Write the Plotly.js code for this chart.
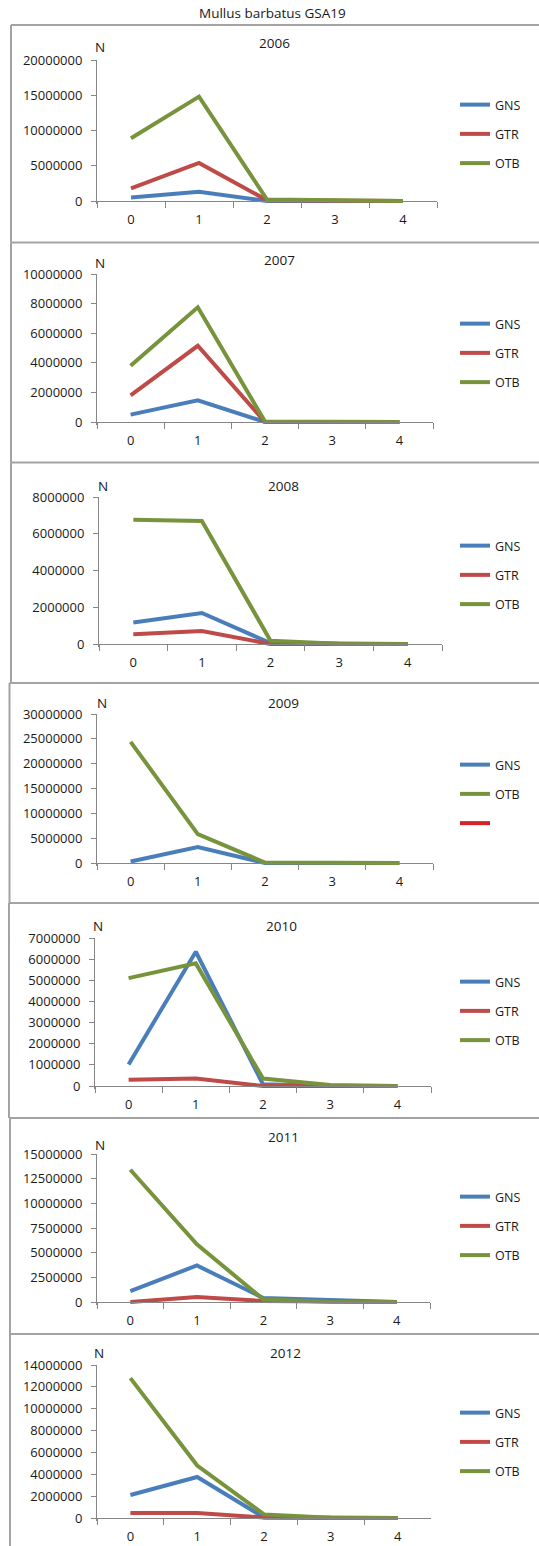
<!DOCTYPE html>
<html>
<head>
<meta charset="utf-8">
<script src="https://cdn.plot.ly/plotly-3.0.1.min.js"></script>
<style>html,body{margin:0;padding:0;background:#fff;}#chart{width:539px;height:1546px;}</style>
</head>
<body>
<div id="chart"></div>
<script>
// ---------- data ----------
const chartTitle = 'Mullus barbatus GSA19';
const ages = ['0', '1', '2', '3', '4'];
const years = ['2006', '2007', '2008', '2009', '2010', '2011', '2012'];
const yMax = [20000000, 10000000, 8000000, 30000000, 7000000, 15000000, 14000000];
const yStep = [5000000, 2000000, 2000000, 5000000, 1000000, 2500000, 2000000];

const gns2006 = [500000, 1300000, 0, 0, 0];
const gtr2006 = [1800000, 5400000, 100000, 0, 0];
const otb2006 = [8900000, 14800000, 200000, 50000, 0];

const gns2007 = [500000, 1470000, 0, 0, 0];
const gtr2007 = [1800000, 5150000, 0, 0, 0];
const otb2007 = [3800000, 7750000, 30000, 0, 0];

const gns2008 = [1170000, 1690000, 50000, 0, 0];
const gtr2008 = [530000, 710000, 0, 0, 0];
const otb2008 = [6760000, 6700000, 180000, 20000, 0];

const gns2009 = [300000, 3200000, 0, 0, 0];
const otb2009 = [24400000, 5800000, 100000, 0, 0];
const unnamed2009 = [null, null, null, null, null];

const gns2010 = [1020000, 6350000, 80000, 0, 0];
const gtr2010 = [290000, 360000, 0, 0, 0];
const otb2010 = [5100000, 5800000, 350000, 50000, 0];

const gns2011 = [1100000, 3700000, 400000, 150000, 0];
const gtr2011 = [0, 500000, 100000, 0, 0];
const otb2011 = [13400000, 5850000, 250000, 30000, 0];

const gns2012 = [2100000, 3750000, 50000, 0, 0];
const gtr2012 = [460000, 460000, 50000, 0, 0];
const otb2012 = [12800000, 4800000, 330000, 20000, 0];

const seriesByYear = [
  [['GNS', gns2006], ['GTR', gtr2006], ['OTB', otb2006]],
  [['GNS', gns2007], ['GTR', gtr2007], ['OTB', otb2007]],
  [['GNS', gns2008], ['GTR', gtr2008], ['OTB', otb2008]],
  [['GNS', gns2009], ['OTB', otb2009], ['', unnamed2009]],
  [['GNS', gns2010], ['GTR', gtr2010], ['OTB', otb2010]],
  [['GNS', gns2011], ['GTR', gtr2011], ['OTB', otb2011]],
  [['GNS', gns2012], ['GTR', gtr2012], ['OTB', otb2012]]
];

// ---------- styling / layout geometry (pixels) ----------
const W = 539, H = 1546;
const colors = {GNS: '#4A7EBB', GTR: '#BE4B48', OTB: '#77933C', '': '#D3242B'};
const FONT = 'Open Sans, Liberation Sans, Arial, sans-serif';
const TXT = '#1A1A1A';
const AXC = '#868686';
const BORDER = '#A3A3A3';
// per panel: y-axis x, x-axis end, top tick y, zero y, title pos, N pos, legend mid y, frame left, frame top
const geo = [
  {ax: 97, xe: 437, yt: 60,   y0: 201,  tx: 274, ty: 43,   nx: 100, ny: 47,   lm: 134,  fl: 11,  ft: 25},
  {ax: 97, xe: 433, yt: 274,  y0: 422,  tx: 279, ty: 260,  nx: 100, ny: 263,  lm: 353,  fl: 11,  ft: 242.5},
  {ax: 99, xe: 442, yt: 497,  y0: 644,  tx: 283, ty: 486,  nx: 103, ny: 486,  lm: 575,  fl: 11,  ft: 462.5},
  {ax: 97, xe: 433, yt: 714,  y0: 863,  tx: 283, ty: 703,  nx: 102, ny: 703,  lm: 794,  fl: 9.5, ft: 683},
  {ax: 95, xe: 431, yt: 938,  y0: 1086, tx: 281, ty: 926,  nx: 98,  ny: 926,  lm: 1011, fl: 9,   ft: 903},
  {ax: 97, xe: 430, yt: 1154, y0: 1302, tx: 283, ty: 1137, nx: 100, ny: 1145, lm: 1226, fl: 10,  ft: 1118},
  {ax: 97, xe: 431, yt: 1365, y0: 1518, tx: 285, ty: 1353, nx: 99,  ny: 1353, lm: 1442, fl: 10,  ft: 1334}
];
const PAD = 3; // px below zero so that lines at 0 are not clipped

const traces = [];
const layout = {
  width: W, height: H,
  margin: {l: 0, r: 0, t: 0, b: 0},
  paper_bgcolor: '#fff', plot_bgcolor: 'rgba(0,0,0,0)',
  font: {family: FONT, size: 12, color: TXT},
  showlegend: true,
  annotations: [],
  shapes: []
};

layout.annotations.push({
  text: chartTitle, xref: 'paper', yref: 'paper', x: 272 / W, y: 1 - 13 / H,
  xanchor: 'center', yanchor: 'middle', showarrow: false, font: {family: FONT, size: 13.5, color: TXT}
});

geo.forEach((g, i) => {
  const n = i + 1;
  const xa = 'xaxis' + (n === 1 ? '' : n);
  const ya = 'yaxis' + (n === 1 ? '' : n);
  const xr = 'x' + (n === 1 ? '' : n);
  const yr = 'y' + (n === 1 ? '' : n);
  const lg = 'legend' + (n === 1 ? '' : n);
  const span = g.y0 - g.yt;
  const yLow = -PAD * yMax[i] / span;

  layout[xa] = {
    domain: [g.ax / W, g.xe / W], anchor: 'free', position: 1 - g.y0 / H,
    type: 'category', range: [-0.5, 4.5], tickson: 'boundaries',
    ticks: 'outside', ticklen: 6, tickcolor: AXC, tickwidth: 1,
    showline: true, linecolor: AXC, linewidth: 1, showgrid: false, zeroline: false,
    tickfont: {family: FONT, size: 13, color: TXT}, ticklabelstandoff: 6, fixedrange: true
  };
  layout[ya] = {
    domain: [1 - (g.y0 + PAD) / H, 1 - g.yt / H], anchor: xr,
    range: [yLow, yMax[i]], tick0: 0, dtick: yStep[i], tickformat: 'd',
    ticks: 'outside', ticklen: 5, tickcolor: AXC, tickwidth: 1,
    showline: true, linecolor: AXC, linewidth: 1, showgrid: false, zeroline: false,
    tickfont: {family: FONT, size: 13, color: TXT}, ticklabelstandoff: 6, fixedrange: true
  };
  layout[lg] = {
    x: 455 / W, xanchor: 'left', y: 1 - g.lm / H, yanchor: 'middle',
    bgcolor: 'rgba(0,0,0,0)', borderwidth: 0, traceorder: 'grouped', tracegroupgap: 10,
    font: {family: FONT, size: 12.5, color: TXT}, itemwidth: 30
  };

  seriesByYear[i].forEach(([name, vals]) => {
    traces.push({
      type: 'scatter', mode: 'lines', x: ages, y: vals, name: name,
      xaxis: xr, yaxis: yr, legend: lg, legendgroup: years[i] + '-' + name,
      line: {color: colors[name], width: 4}, connectgaps: false, hoverinfo: 'skip'
    });
  });

  layout.annotations.push({
    text: years[i], xref: 'paper', yref: 'paper', x: g.tx / W, y: 1 - g.ty / H,
    xanchor: 'center', yanchor: 'middle', showarrow: false, font: {family: FONT, size: 13.5, color: TXT}
  });
  layout.annotations.push({
    text: 'N', xref: 'paper', yref: 'paper', x: g.nx / W, y: 1 - g.ny / H,
    xanchor: 'center', yanchor: 'middle', showarrow: false, font: {family: FONT, size: 13.5, color: TXT}
  });

  const bottom = i < geo.length - 1 ? geo[i + 1].ft : H;
  layout.shapes.push({type: 'line', xref: 'paper', yref: 'paper', x0: g.fl / W, x1: 1, y0: 1 - g.ft / H, y1: 1 - g.ft / H, line: {color: BORDER, width: 2}});
  layout.shapes.push({type: 'line', xref: 'paper', yref: 'paper', x0: g.fl / W, x1: g.fl / W, y0: 1 - g.ft / H, y1: 1 - bottom / H, line: {color: BORDER, width: 2}});
});

Plotly.newPlot('chart', traces, layout, {staticPlot: true, displayModeBar: false});
</script>
</body>
</html>
